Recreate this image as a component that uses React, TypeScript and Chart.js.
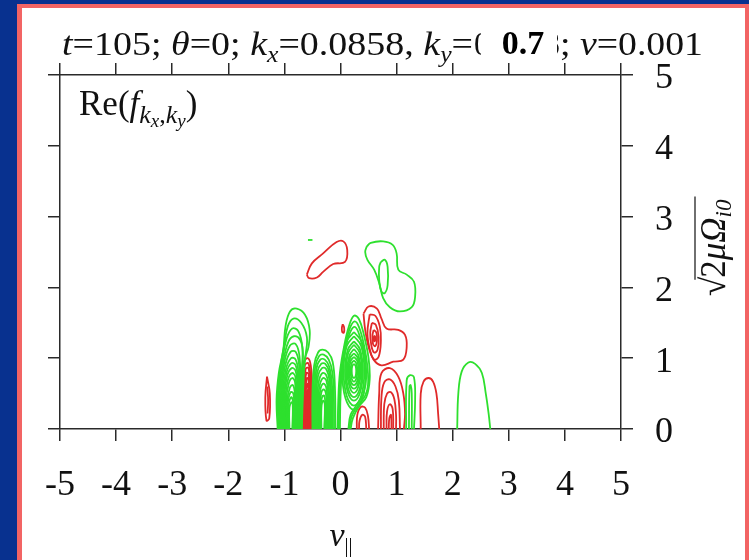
import React, { useEffect, useRef } from "react";
import { Chart, registerables } from "chart.js";

Chart.register(...registerables);

// ---- tick values ----
const xTickValues = [-5, -4, -3, -2, -1, 0, 1, 2, 3, 4, 5];
const yTickValues = [0, 1, 2, 3, 4, 5];

// ---- contour lines, [v_par, sqrt(2 mu Omega)] ----
type Pt = [number, number];

const redTopLoop: Pt[][] = [
  [[-0.6, 2.18], [-0.51, 2.34], [-0.31, 2.48], [-0.07, 2.64], [0.05, 2.65], [0.12, 2.53], [0.08, 2.36], [-0.13, 2.33], [-0.31, 2.22], [-0.42, 2.14], [-0.56, 2.13], [-0.6, 2.18]],
];

const greenTopLoops: Pt[][] = [
  [[0.47, 2.58], [0.54, 2.63], [0.76, 2.65], [0.93, 2.6], [1.0, 2.48], [1.03, 2.25], [1.18, 2.18], [1.31, 2.08], [1.33, 1.87], [1.27, 1.72], [1.06, 1.66], [0.88, 1.72], [0.76, 1.85], [0.69, 2.06], [0.6, 2.25], [0.48, 2.39], [0.44, 2.5], [0.47, 2.58]],
  [[0.72, 2.36], [0.79, 2.39], [0.84, 2.29], [0.84, 2.03], [0.79, 1.92], [0.73, 1.94], [0.69, 2.1], [0.69, 2.29], [0.72, 2.36]],
  [[-0.58, 2.67], [-0.5, 2.67]],
];

const redLeftThin: Pt[][] = [
  [[-1.31, 0.74], [-1.26, 0.5], [-1.27, 0.15], [-1.32, 0.12], [-1.34, 0.45], [-1.31, 0.74]],
  [[-1.305, 0.6], [-1.29, 0.4], [-1.3, 0.22]],
];

const greenLeftColumn: Pt[][] = [
  [[-1.12, 0], [-1.14, 0.41], [-1.1, 0.79], [-1.02, 1.12], [-0.98, 1.45], [-0.9, 1.66], [-0.78, 1.7], [-0.63, 1.61], [-0.55, 1.4], [-0.57, 1.16], [-0.63, 1.0], [-0.66, 0.65], [-0.69, 0]],
  [[-1.105, 0], [-1.12, 0.45], [-1.07, 0.87], [-1.0, 1.2], [-0.94, 1.45], [-0.84, 1.56], [-0.7, 1.5], [-0.6, 1.3], [-0.62, 1.06], [-0.66, 0.85], [-0.68, 0.5], [-0.695, 0]],
  [[-1.09, 0], [-1.1, 0.5], [-1.04, 0.95], [-0.96, 1.28], [-0.86, 1.42], [-0.75, 1.38], [-0.68, 1.15], [-0.69, 0.8], [-0.7, 0]],
  [[-1.075, 0], [-1.08, 0.52], [-1.02, 0.95], [-0.93, 1.23], [-0.83, 1.31], [-0.72, 1.26], [-0.67, 1.08], [-0.695, 0.7], [-0.71, 0]],
  [[-1.06, 0], [-1.06, 0.55], [-1.0, 0.95], [-0.9, 1.18], [-0.8, 1.2], [-0.73, 1.02], [-0.72, 0.6], [-0.72, 0]],
  [[-1.045, 0], [-1.045, 0.52], [-0.985, 0.9], [-0.89, 1.09], [-0.8, 1.09], [-0.74, 0.92], [-0.725, 0.5], [-0.735, 0]],
  [[-1.03, 0], [-1.03, 0.5], [-0.97, 0.85], [-0.88, 1.0], [-0.8, 0.98], [-0.75, 0.8], [-0.74, 0.4], [-0.75, 0]],
  [[-1.015, 0], [-1.015, 0.47], [-0.96, 0.8], [-0.875, 0.93], [-0.8, 0.9], [-0.76, 0.7], [-0.755, 0]],
  [[-1.0, 0], [-1.0, 0.45], [-0.95, 0.75], [-0.87, 0.86], [-0.8, 0.82], [-0.77, 0.6], [-0.77, 0]],
  [[-0.985, 0], [-0.985, 0.42], [-0.935, 0.7], [-0.865, 0.79], [-0.805, 0.74], [-0.785, 0.5], [-0.785, 0]],
  [[-0.97, 0], [-0.97, 0.4], [-0.92, 0.65], [-0.86, 0.72], [-0.81, 0.66], [-0.8, 0.4], [-0.8, 0]],
  [[-0.955, 0], [-0.955, 0.37], [-0.905, 0.58], [-0.85, 0.62], [-0.815, 0.5], [-0.815, 0]],
  [[-0.94, 0], [-0.94, 0.35], [-0.89, 0.52], [-0.84, 0.5], [-0.83, 0.3], [-0.83, 0]],
  [[-0.925, 0], [-0.925, 0.32], [-0.88, 0.45], [-0.845, 0.38], [-0.845, 0]],
  [[-0.91, 0], [-0.91, 0.3], [-0.87, 0.38], [-0.85, 0.3], [-0.86, 0]],
];

const redStripe: Pt[][] = [
  [[-0.69, 0], [-0.68, 0.6], [-0.65, 0.95], [-0.58, 1.0], [-0.53, 0.9], [-0.51, 0.6], [-0.52, 0]],
  [[-0.675, 0], [-0.668, 0.58], [-0.635, 0.9], [-0.575, 0.93], [-0.537, 0.75], [-0.528, 0.4], [-0.532, 0]],
  [[-0.66, 0], [-0.655, 0.55], [-0.62, 0.85], [-0.57, 0.86], [-0.545, 0.6], [-0.545, 0]],
  [[-0.648, 0], [-0.643, 0.52], [-0.61, 0.79], [-0.57, 0.78], [-0.555, 0.5], [-0.555, 0]],
  [[-0.635, 0], [-0.63, 0.5], [-0.6, 0.72], [-0.57, 0.7], [-0.565, 0.4], [-0.565, 0]],
  [[-0.622, 0], [-0.62, 0.48], [-0.595, 0.64], [-0.575, 0.55], [-0.575, 0]],
  [[-0.61, 0], [-0.61, 0.45], [-0.59, 0.55], [-0.58, 0.4], [-0.585, 0]],
];

const greenMidColumn: Pt[][] = [
  [[-0.5, 0], [-0.5, 0.5], [-0.47, 0.9], [-0.4, 1.08], [-0.32, 1.12], [-0.22, 1.08], [-0.14, 0.95], [-0.1, 0.6], [-0.09, 0]],
  [[-0.48, 0], [-0.48, 0.5], [-0.45, 0.88], [-0.38, 1.03], [-0.3, 1.05], [-0.21, 0.98], [-0.145, 0.8], [-0.12, 0.5], [-0.115, 0]],
  [[-0.46, 0], [-0.46, 0.5], [-0.43, 0.85], [-0.36, 0.98], [-0.28, 0.98], [-0.2, 0.88], [-0.15, 0.6], [-0.14, 0]],
  [[-0.445, 0], [-0.445, 0.47], [-0.415, 0.8], [-0.345, 0.92], [-0.27, 0.92], [-0.2, 0.8], [-0.165, 0.5], [-0.16, 0]],
  [[-0.43, 0], [-0.43, 0.45], [-0.4, 0.75], [-0.33, 0.86], [-0.26, 0.85], [-0.2, 0.7], [-0.18, 0.4], [-0.18, 0]],
  [[-0.415, 0], [-0.415, 0.42], [-0.385, 0.68], [-0.32, 0.79], [-0.255, 0.76], [-0.21, 0.6], [-0.2, 0.3], [-0.2, 0]],
  [[-0.4, 0], [-0.4, 0.4], [-0.37, 0.62], [-0.31, 0.72], [-0.25, 0.68], [-0.22, 0.5], [-0.22, 0]],
  [[-0.385, 0], [-0.385, 0.37], [-0.355, 0.57], [-0.305, 0.64], [-0.255, 0.59], [-0.235, 0.4], [-0.24, 0]],
  [[-0.37, 0], [-0.37, 0.35], [-0.34, 0.52], [-0.3, 0.56], [-0.26, 0.5], [-0.25, 0.3], [-0.26, 0]],
  [[-0.355, 0], [-0.355, 0.32], [-0.325, 0.46], [-0.29, 0.47], [-0.27, 0.35], [-0.275, 0]],
  [[-0.34, 0], [-0.34, 0.3], [-0.31, 0.4], [-0.28, 0.35], [-0.29, 0]],
];

const greenLens: Pt[][] = [
  [[-0.05, 0], [-0.04, 0.4], [-0.01, 0.8], [0.06, 1.15], [0.15, 1.45], [0.24, 1.6], [0.33, 1.55], [0.42, 1.32], [0.5, 1.0], [0.52, 0.7], [0.46, 0.45], [0.33, 0.32], [0.22, 0.15], [0.18, 0]],
  [[-0.03, 0], [-0.02, 0.42], [0.01, 0.82], [0.08, 1.16], [0.16, 1.41], [0.25, 1.52], [0.33, 1.44], [0.42, 1.18], [0.48, 0.88], [0.49, 0.62], [0.44, 0.47], [0.31, 0.33], [0.2, 0.18], [0.16, 0]],
  [[-0.01, 0], [0.0, 0.45], [0.03, 0.85], [0.1, 1.18], [0.18, 1.38], [0.26, 1.44], [0.34, 1.32], [0.42, 1.05], [0.46, 0.75], [0.41, 0.5], [0.28, 0.33], [0.18, 0.2], [0.14, 0]],
  [[0.24, 1.37], [0.39, 1.21], [0.45, 0.82], [0.39, 0.43], [0.24, 0.27], [0.09, 0.43], [0.03, 0.82], [0.09, 1.21], [0.24, 1.37]],
  [[0.24, 1.31], [0.37, 1.17], [0.425, 0.82], [0.37, 0.47], [0.24, 0.33], [0.11, 0.47], [0.055, 0.82], [0.11, 1.17], [0.24, 1.31]],
  [[0.24, 1.24], [0.35, 1.12], [0.4, 0.82], [0.35, 0.52], [0.24, 0.4], [0.13, 0.52], [0.08, 0.82], [0.13, 1.12], [0.24, 1.24]],
  [[0.24, 1.19], [0.34, 1.08], [0.38, 0.82], [0.34, 0.56], [0.24, 0.45], [0.14, 0.56], [0.1, 0.82], [0.14, 1.08], [0.24, 1.19]],
  [[0.24, 1.13], [0.32, 1.04], [0.36, 0.82], [0.32, 0.6], [0.24, 0.51], [0.16, 0.6], [0.12, 0.82], [0.16, 1.04], [0.24, 1.13]],
  [[0.24, 1.07], [0.31, 1.0], [0.34, 0.82], [0.31, 0.64], [0.24, 0.57], [0.17, 0.64], [0.14, 0.82], [0.17, 1.0], [0.24, 1.07]],
  [[0.24, 1.02], [0.3, 0.96], [0.32, 0.82], [0.3, 0.68], [0.24, 0.62], [0.18, 0.68], [0.16, 0.82], [0.18, 0.96], [0.24, 1.02]],
  [[0.24, 0.97], [0.28, 0.93], [0.3, 0.82], [0.28, 0.71], [0.24, 0.67], [0.2, 0.71], [0.18, 0.82], [0.2, 0.93], [0.24, 0.97]],
  [[0.24, 0.92], [0.27, 0.89], [0.28, 0.82], [0.27, 0.75], [0.24, 0.72], [0.21, 0.75], [0.2, 0.82], [0.21, 0.89], [0.24, 0.92]],
];

const redDot: Pt[][] = [
  [[0.04, 1.48], [0.065, 1.43], [0.06, 1.36], [0.03, 1.37], [0.025, 1.43], [0.04, 1.48]],
];

const redRightNest: Pt[][] = [
  [[0.41, 1.63], [0.5, 1.73], [0.65, 1.7], [0.73, 1.56], [0.82, 1.42], [1.03, 1.4], [1.15, 1.33], [1.18, 1.16], [1.12, 0.98], [0.94, 0.95], [0.73, 0.9], [0.59, 0.98], [0.5, 1.16], [0.44, 1.4], [0.41, 1.63]],
  [[0.52, 1.62], [0.62, 1.6], [0.7, 1.45], [0.72, 1.25], [0.68, 1.02], [0.6, 0.98], [0.53, 1.1], [0.48, 1.35], [0.52, 1.62]],
  [[0.56, 1.5], [0.63, 1.47], [0.68, 1.3], [0.66, 1.12], [0.6, 1.08], [0.55, 1.18], [0.53, 1.36], [0.56, 1.5]],
  [[0.59, 1.4], [0.64, 1.36], [0.65, 1.25], [0.62, 1.17], [0.58, 1.2], [0.57, 1.32], [0.59, 1.4]],
  [[0.6, 1.32], [0.62, 1.3], [0.62, 1.25], [0.6, 1.24], [0.59, 1.27], [0.6, 1.32]],
];

const redLowerColumn: Pt[][] = [
  [[0.67, 0], [0.69, 0.5], [0.73, 0.79], [0.88, 0.86], [1.03, 0.74], [1.12, 0.5], [1.15, 0.22], [1.13, 0]],
  [[0.72, 0], [0.73, 0.45], [0.78, 0.66], [0.88, 0.7], [0.98, 0.6], [1.04, 0.4], [1.06, 0]],
  [[0.77, 0], [0.78, 0.35], [0.83, 0.5], [0.9, 0.52], [0.96, 0.42], [0.99, 0.2], [0.99, 0]],
  [[0.82, 0], [0.83, 0.25], [0.88, 0.35], [0.93, 0.28], [0.94, 0]],
  [[0.86, 0], [0.87, 0.15], [0.9, 0.2], [0.91, 0]],
];

const redBottomSmall: Pt[][] = [
  [[0.29, 0], [0.3, 0.2], [0.36, 0.31], [0.44, 0.3], [0.49, 0.18], [0.51, 0]],
  [[0.33, 0], [0.34, 0.12], [0.39, 0.2], [0.44, 0.17], [0.46, 0]],
];

const greenThin: Pt[][] = [
  [[1.17, 0], [1.18, 0.69], [1.24, 0.76], [1.31, 0.73], [1.33, 0.41], [1.31, 0]],
  [[1.22, 0], [1.23, 0.6], [1.25, 0.62], [1.27, 0.5], [1.27, 0]],
];

const redRightLoop: Pt[][] = [
  [[1.43, 0], [1.43, 0.5], [1.48, 0.67], [1.57, 0.72], [1.65, 0.67], [1.71, 0.5], [1.74, 0.22], [1.76, 0]],
];

const greenRightArc: Pt[][] = [
  [[2.08, 0], [2.1, 0.5], [2.16, 0.81], [2.28, 0.94], [2.4, 0.92], [2.52, 0.79], [2.59, 0.5], [2.64, 0.22], [2.67, 0]],
];

const RED = "#e02a2a";
const GREEN = "#2ee02e";

const redGroups = [redTopLoop, redLeftThin, redStripe, redDot, redRightNest, redLowerColumn, redBottomSmall, redRightLoop];
const greenGroups = [greenTopLoops, greenLeftColumn, greenMidColumn, greenLens, greenThin, greenRightArc];

const SERIF = '"Liberation Serif","Times New Roman",serif';

type Run = { t: string; font: string; dy?: number };

function drawRuns(ctx: CanvasRenderingContext2D, runs: Run[], draw: boolean): number {
  let x = 0;
  for (const r of runs) {
    ctx.font = r.font;
    if (draw) ctx.fillText(r.t, x, r.dy || 0);
    x += ctx.measureText(r.t).width;
  }
  return x;
}

function drawFitted(ctx: CanvasRenderingContext2D, runs: Run[], x0: number, x1: number, y: number) {
  const w = drawRuns(ctx, runs, false);
  ctx.save();
  ctx.translate(x0, y);
  ctx.scale((x1 - x0) / w, 1);
  drawRuns(ctx, runs, true);
  ctx.restore();
}

const textPlugin = {
  id: "decor",
  beforeDraw(chart: any) {
    const ctx: CanvasRenderingContext2D = chart.ctx;
    const W = chart.width;
    const H = chart.height;
    ctx.save();
    ctx.fillStyle = "#08318f";
    ctx.fillRect(0, 0, W, H);
    ctx.fillStyle = "#f26464";
    ctx.fillRect(17, 4, W - 17, H - 4);
    ctx.fillStyle = "#ffffff";
    ctx.fillRect(22, 8, W - 22 - 4, H - 8);
    ctx.restore();
  },
  afterDraw(chart: any) {
    const ctx: CanvasRenderingContext2D = chart.ctx;
    ctx.save();
    ctx.fillStyle = "#111";
    ctx.textBaseline = "alphabetic";
    ctx.textAlign = "left";

    // Title
    const rm = `34px ${SERIF}`;
    const it = `italic 34px ${SERIF}`;
    const sb = `italic 23px ${SERIF}`;
    const part1: Run[] = [
      { t: "t", font: it }, { t: "=105; ", font: rm }, { t: "θ", font: it }, { t: "=0; ", font: rm },
      { t: "k", font: it }, { t: "x", font: sb, dy: 7 }, { t: "=0.0858, ", font: rm },
      { t: "k", font: it }, { t: "y", font: sb, dy: 7 }, { t: "=", font: rm },
    ];
    const part2: Run[] = [{ t: "0.0858", font: rm }];
    const part3: Run[] = [{ t: "; ", font: rm }, { t: "ν", font: it }, { t: "=0.001", font: rm }];
    drawFitted(ctx, part1, 62, 473, 55);
    drawFitted(ctx, part2, 474, 560, 55);
    drawFitted(ctx, part3, 560, 703, 55);
    // overlay box with bold value
    ctx.fillStyle = "#ffffff";
    ctx.fillRect(481, 14, 76, 46);
    ctx.fillStyle = "#000";
    ctx.font = `bold 34px ${SERIF}`;
    ctx.textAlign = "center";
    ctx.fillText("0.7", 523, 54);
    ctx.textAlign = "left";
    ctx.fillStyle = "#111";

    // Re(f_{kx,ky})
    ctx.save();
    ctx.translate(79, 115);
    const re: Run[] = [
      { t: "Re(", font: `35px ${SERIF}` }, { t: "f", font: `italic 35px ${SERIF}` },
      { t: "k", font: `italic 26px ${SERIF}`, dy: 8 }, { t: "x", font: `italic 19px ${SERIF}`, dy: 12 },
      { t: ",", font: `26px ${SERIF}`, dy: 8 },
      { t: "k", font: `italic 26px ${SERIF}`, dy: 8 }, { t: "y", font: `italic 19px ${SERIF}`, dy: 12 },
      { t: ")", font: `35px ${SERIF}` },
    ];
    drawRuns(ctx, re, true);
    ctx.restore();

    // x-axis title v_par
    ctx.save();
    const vr: Run[] = [{ t: "v", font: it }, { t: "||", font: `20px ${SERIF}`, dy: 6 }];
    const vw = drawRuns(ctx, vr, false);
    ctx.translate(341 - vw / 2, 546);
    drawRuns(ctx, vr, true);
    ctx.restore();

    // right axis title sqrt(2 mu Omega_i0)
    ctx.save();
    ctx.translate(725, 296);
    ctx.rotate(-Math.PI / 2);
    ctx.font = `35px ${SERIF}`;
    ctx.fillText("√", 0, 0);
    const rw = ctx.measureText("√").width;
    const inner: Run[] = [
      { t: "2", font: `35px ${SERIF}` }, { t: "μ", font: `italic 35px ${SERIF}` },
      { t: "Ω", font: `italic 35px ${SERIF}` }, { t: "i0", font: `italic 23px ${SERIF}`, dy: 6 },
    ];
    ctx.save();
    ctx.translate(rw - 1, 0);
    const iw = drawRuns(ctx, inner, true);
    ctx.restore();
    ctx.strokeStyle = "#333";
    ctx.lineWidth = 1.4;
    ctx.beginPath();
    ctx.moveTo(rw - 3, -30);
    ctx.lineTo(rw + iw + 2, -30);
    ctx.stroke();
    ctx.restore();

    ctx.restore();
  },
};

export default function App() {
  const ref = useRef<HTMLCanvasElement | null>(null);

  useEffect(() => {
    if (!ref.current) return;
    const datasets: any[] = [];
    const add = (groups: Pt[][][], color: string) => {
      for (const g of groups) {
        for (const line of g) {
          datasets.push({
            data: line.map(([x, y]) => ({ x, y })),
            borderColor: color,
            backgroundColor: color,
            borderWidth: 1.8,
            showLine: true,
            pointRadius: 0,
            pointHoverRadius: 0,
            tension: 0.4,
            fill: false,
            xAxisID: "x",
            yAxisID: "y",
          });
        }
      }
    };
    add(greenGroups, GREEN);
    add(redGroups, RED);

    const axisColor = "#2a2a2a";
    const tickFont = { family: SERIF, size: 36 };
    const common = (values: number[]) => ({
      type: "linear" as const,
      afterBuildTicks: (s: any) => {
        s.ticks = values.map((v) => ({ value: v }));
      },
      grid: { drawOnChartArea: false, drawTicks: true, tickLength: 12, color: axisColor, lineWidth: 1.5 },
      border: { display: true, color: axisColor, width: 1.5 },
    });

    const chart = new Chart(ref.current, {
      type: "scatter",
      data: { datasets },
      options: {
        animation: false,
        responsive: false,
        maintainAspectRatio: false,
        devicePixelRatio: 1,
        layout: { padding: 0 },
        plugins: { legend: { display: false }, tooltip: { enabled: false } },
        events: [],
        scales: {
          x: {
            ...common(xTickValues),
            position: "bottom",
            min: -5,
            max: 5,
            ticks: { font: tickFont, color: "#111", padding: 23, maxRotation: 0, autoSkip: false },
            afterFit: (s: any) => { s.height = 131; },
          },
          x2: {
            ...common(xTickValues),
            position: "top",
            min: -5,
            max: 5,
            ticks: { display: false },
            afterFit: (s: any) => { s.height = 75; },
          },
          y: {
            ...common(yTickValues),
            position: "right",
            min: 0,
            max: 5,
            ticks: { font: tickFont, color: "#111", padding: 22, labelOffset: 4, autoSkip: false },
            afterFit: (s: any) => { s.width = 128; },
          },
          y2: {
            ...common(yTickValues),
            position: "left",
            min: 0,
            max: 5,
            ticks: { display: false },
            afterFit: (s: any) => { s.width = 60; },
          },
        },
      } as any,
      plugins: [textPlugin],
    });
    return () => chart.destroy();
  }, []);

  return (
    <div style={{ position: "fixed", left: 0, top: 0, width: 749, height: 560 }}>
      <canvas ref={ref} width={749} height={560} style={{ display: "block", width: 749, height: 560 }} />
    </div>
  );
}
